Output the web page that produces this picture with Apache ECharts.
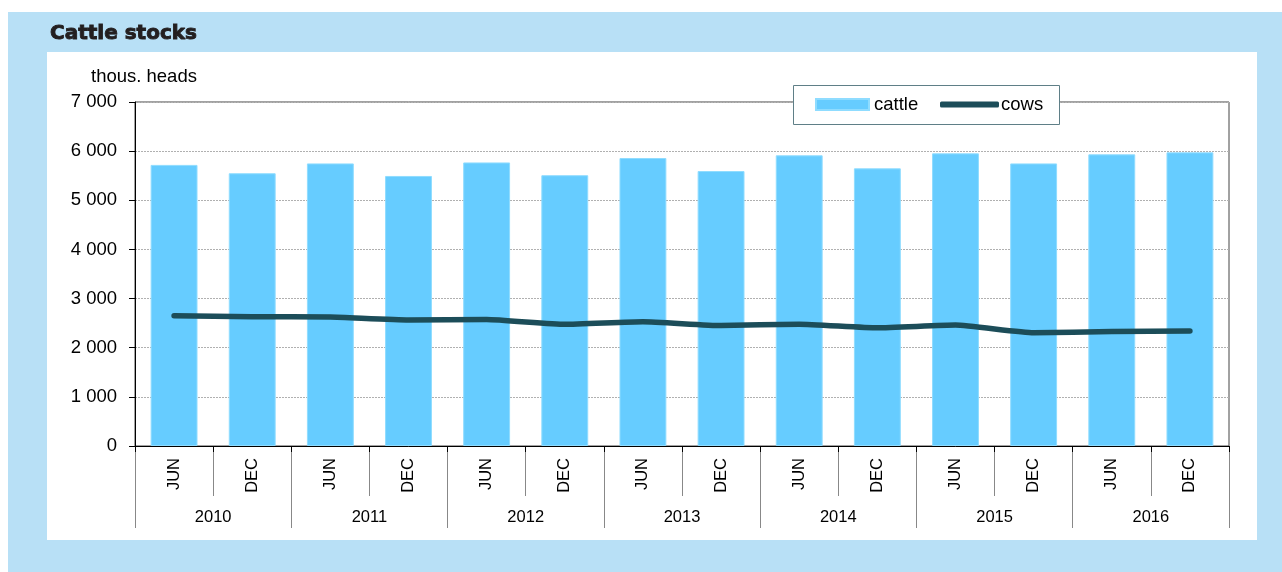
<!DOCTYPE html>
<html>
<head>
<meta charset="utf-8">
<script src="https://cdn.jsdelivr.net/npm/echarts@6/dist/echarts.min.js"></script>
<style>
  html, body { margin: 0; padding: 0; background: #fff; }
  #chart { width: 1282px; height: 572px; }
</style>
</head>
<body>
<div id="chart"></div>
<script>
// data
var periods = ['JUN', 'DEC', 'JUN', 'DEC', 'JUN', 'DEC', 'JUN', 'DEC', 'JUN', 'DEC', 'JUN', 'DEC', 'JUN', 'DEC'];
var years = ['2010', '2011', '2012', '2013', '2014', '2015', '2016'];
var cattle = [5720, 5550, 5750, 5495, 5770, 5510, 5860, 5595, 5915, 5650, 5955, 5750, 5935, 5975];
var cows = [2650, 2630, 2625, 2565, 2575, 2475, 2530, 2450, 2480, 2405, 2460, 2305, 2330, 2340];

var myChart = echarts.init(document.getElementById('chart'));

var font = 'Liberation Sans, Arial, sans-serif';

var option = {
  animation: false,
  textStyle: { fontFamily: font },
  graphic: [
    // light blue frame, white panel, legend box
    { type: 'rect', z: -10, shape: { x: 8, y: 12, width: 1274, height: 560 }, style: { fill: '#b8e0f6' } },
    { type: 'rect', z: -9, shape: { x: 47, y: 52, width: 1210, height: 488 }, style: { fill: '#ffffff' } },
    { type: 'rect', z: 50, shape: { x: 793.5, y: 85.5, width: 266, height: 39 }, style: { fill: '#fff', stroke: '#5f7f87', lineWidth: 1 } }
  ],
  title: [
    {
      text: 'Cattle stocks',
      left: 45, top: 19,
      textStyle: {
        fontFamily: 'DejaVu Sans, sans-serif', fontSize: 20, fontWeight: 'bold', color: '#231f20',
        textBorderColor: '#231f20', textBorderWidth: 0.9
      }
    },
    {
      text: 'thous. heads',
      left: 86, top: 62,
      textStyle: { fontFamily: font, fontSize: 18.5, fontWeight: 'normal', color: '#000' }
    }
  ],
  legend: [
    {
      left: 815, top: 95, z: 60,
      padding: 0,
      itemWidth: 53, itemHeight: 11, itemGap: 6,
      textStyle: { fontSize: 18.5, color: '#000', fontFamily: font },
      data: [{ name: 'cattle', icon: 'rect' }]
    },
    {
      left: 940, top: 95, z: 60,
      padding: 0,
      itemWidth: 59, itemHeight: 6,
      textStyle: { fontSize: 18.5, color: '#000', fontFamily: font, padding: [0, 0, 0, -3] },
      data: [{ name: 'cows', icon: 'roundRect' }]
    }
  ],
  grid: {
    left: 135, right: 53, top: 102, bottom: 126,
    show: true, borderColor: '#444', borderWidth: 1
  },
  xAxis: [
    {
      type: 'category',
      data: periods,
      position: 'bottom',
      axisLine: { show: false },
      axisTick: { show: true, interval: 0, length: 50, lineStyle: { color: '#888' } },
      axisLabel: { interval: 0, rotate: 90, margin: 12, fontSize: 16.5, color: '#000' }
    },
    {
      type: 'category',
      data: years,
      position: 'bottom',
      axisLine: { show: false },
      axisTick: { show: true, interval: 0, length: 82, lineStyle: { color: '#888' } },
      axisLabel: { interval: 0, margin: 63, fontSize: 16.5, color: '#000' }
    },
    {
      type: 'category',
      data: periods,
      position: 'bottom',
      axisLine: { show: true, lineStyle: { color: '#000', width: 1 } },
      axisTick: { show: true, interval: 0, length: 6, lineStyle: { color: '#000' } },
      axisLabel: { show: false }
    }
  ],
  yAxis: {
    type: 'value',
    min: 0, max: 7000, interval: 1000,
    axisLine: { show: true, lineStyle: { color: '#000' } },
    axisTick: { show: true, length: 6, lineStyle: { color: '#000' } },
    axisLabel: {
      margin: 18, fontSize: 18.5, color: '#000',
      formatter: function (v) {
        return String(v).replace(/\B(?=(\d{3})+(?!\d))/g, ' ');
      }
    },
    splitLine: { show: true, lineStyle: { color: '#b0b0b0', type: [2, 1], width: 1 } }
  },
  series: [
    {
      name: 'cattle',
      type: 'bar',
      xAxisIndex: 0,
      data: cattle,
      barWidth: '60%',
      itemStyle: { color: '#66ccff', borderColor: '#8fdcff', borderWidth: 1 }
    },
    {
      name: 'cows',
      type: 'line',
      xAxisIndex: 0,
      data: cows,
      symbol: 'none',
      smooth: 0.15,
      itemStyle: { color: '#1c4d59' },
      lineStyle: { color: '#1c4d59', width: 5.5, cap: 'round', join: 'round' }
    }
  ]
};

myChart.setOption(option);
</script>
</body>
</html>
